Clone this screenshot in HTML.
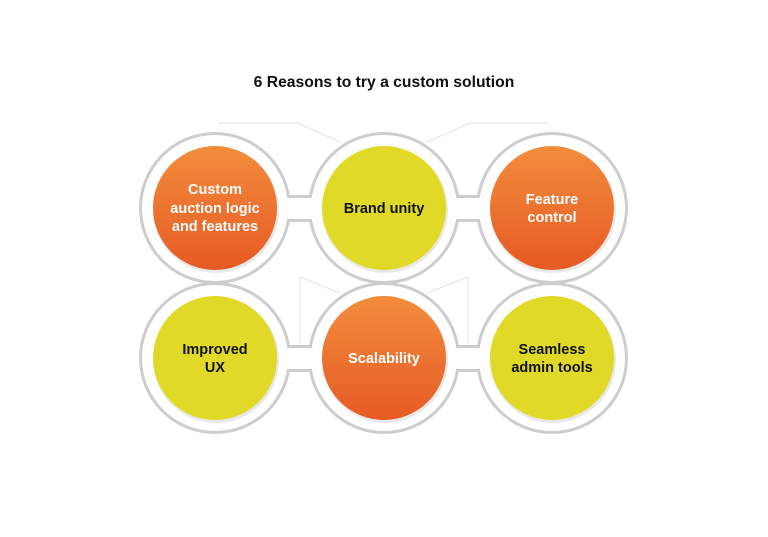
<!DOCTYPE html>
<html><head><meta charset="utf-8"><style>
html,body{margin:0;padding:0;background:#fff;width:768px;height:537px;overflow:hidden}
svg{display:block}
text{font-family:"Liberation Sans",sans-serif;font-weight:bold;text-anchor:middle}
</style></head><body>
<svg width="768" height="537" viewBox="0 0 768 537">
<defs>
<linearGradient id="og" x1="0" y1="0" x2="0" y2="1">
<stop offset="0" stop-color="#f28d3c"/><stop offset="1" stop-color="#e65a25"/>
</linearGradient>
</defs>
<text x="384" y="87" font-size="15.7" fill="#111">6 Reasons to try a custom solution</text>
<g stroke="#e2e2e2" stroke-width="1" fill="none">
<polyline points="218,123 297,123 340,142"/>
<polyline points="548,123 470,123 427,142"/>
<polyline points="300,355 300,277 340,293"/>
<polyline points="468,355 468,277 427,293"/>
</g>
<g fill="#cdcdcd">
<circle cx="215" cy="208" r="76"/><circle cx="384" cy="208" r="76"/><circle cx="552" cy="208" r="76"/>
<rect x="215" y="195" width="337" height="27"/>
<circle cx="215" cy="358" r="76"/><circle cx="384" cy="358" r="76"/><circle cx="552" cy="358" r="76"/>
<rect x="215" y="345" width="337" height="27"/>
</g>
<g fill="#fff">
<circle cx="215" cy="208" r="73"/><circle cx="384" cy="208" r="73"/><circle cx="552" cy="208" r="73"/>
<rect x="215" y="198" width="337" height="21"/>
<circle cx="215" cy="358" r="73"/><circle cx="384" cy="358" r="73"/><circle cx="552" cy="358" r="73"/>
<rect x="215" y="348" width="337" height="21"/>
</g>
<g fill="#e8e8e8">
<circle cx="216" cy="210" r="63"/><circle cx="385" cy="210" r="63"/><circle cx="553" cy="210" r="63"/>
<circle cx="216" cy="360" r="63"/><circle cx="385" cy="360" r="63"/><circle cx="553" cy="360" r="63"/>
</g>
<circle cx="215" cy="208" r="62" fill="url(#og)"/>
<circle cx="384" cy="208" r="62" fill="#e1d928"/>
<circle cx="552" cy="208" r="62" fill="url(#og)"/>
<circle cx="215" cy="358" r="62" fill="#e1d928"/>
<circle cx="384" cy="358" r="62" fill="url(#og)"/>
<circle cx="552" cy="358" r="62" fill="#e1d928"/>
<g font-size="14.5">
<text fill="#fff"><tspan x="215" y="194">Custom</tspan><tspan x="215" y="213">auction logic</tspan><tspan x="215" y="231">and features</tspan></text>
<text fill="#111" x="384" y="213">Brand unity</text>
<text fill="#fff"><tspan x="552" y="204">Feature</tspan><tspan x="552" y="222">control</tspan></text>
<text fill="#111"><tspan x="215" y="354">Improved</tspan><tspan x="215" y="372">UX</tspan></text>
<text fill="#fff" x="384" y="363">Scalability</text>
<text fill="#111"><tspan x="552" y="354">Seamless</tspan><tspan x="552" y="372">admin tools</tspan></text>
</g>
</svg>
</body></html>
